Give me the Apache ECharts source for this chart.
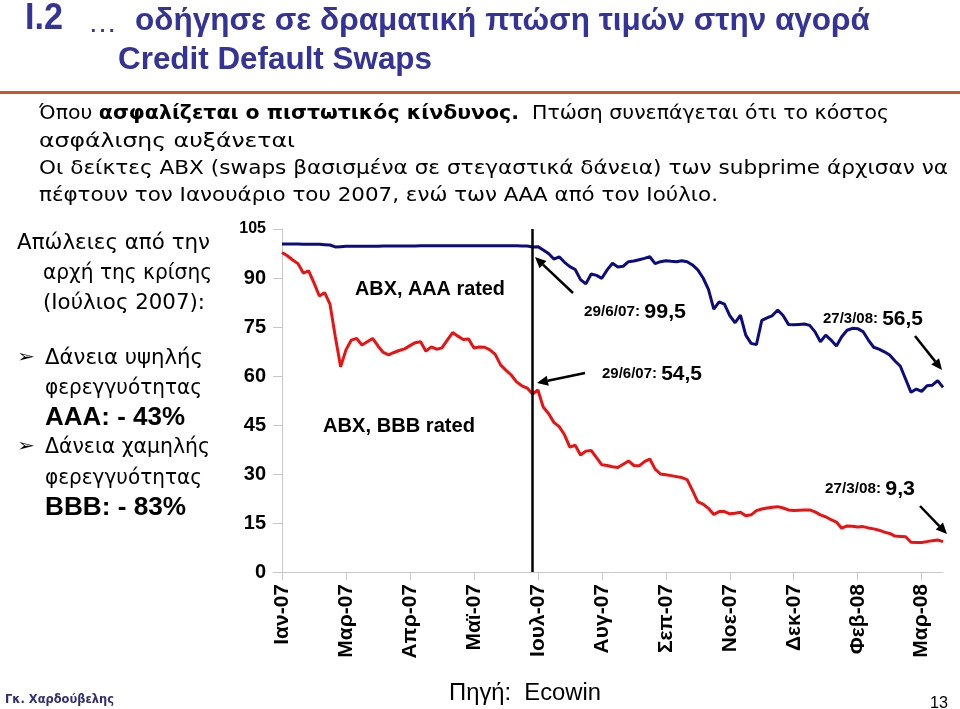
<!DOCTYPE html>
<html>
<head>
<meta charset="utf-8">
<script src="https://cdn.jsdelivr.net/npm/echarts@6/dist/echarts.min.js"></script>
<style>html,body{margin:0;padding:0;background:#fff;}#c{width:960px;height:709px;}</style>
</head>
<body>
<div id="c"></div>
<script>
// ---- data ----
const xLabels = ['Ιαν-07','Μαρ-07','Απρ-07','Μαϊ-07','Ιουλ-07','Αυγ-07','Σεπ-07','Νοε-07','Δεκ-07','Φεβ-08','Μαρ-08'];
const pointsPerLabel = 12;
const yMin = 0, yMax = 105, yStep = 15;
const crisisIndex = 47; // 29/6/07
const abxAAA = [
 100.4,100.4,100.4,100.4,100.3,100.3,100.3,100.3,100.2,100.1,
 99.5,99.6,99.7,99.7,99.7,99.7,99.7,99.7,99.7,99.8,
 99.8,99.8,99.8,99.8,99.8,99.8,99.9,99.9,99.9,99.9,
 99.9,99.9,99.9,99.9,99.9,99.9,99.9,99.9,99.9,99.9,
 99.9,99.9,99.9,99.9,99.9,99.8,99.8,99.5,99.6,98.6,
 97.5,95.8,96.5,94.8,93.5,92.6,89.5,88.2,91.2,90.8,
 89.9,92.5,94.5,93.4,93.6,95.0,95.2,95.6,96.0,96.5,
 94.4,95.0,95.3,95.1,95.0,95.3,95.0,94.0,92.5,90.0,
 86.5,80.5,82.7,82.0,78.5,76.3,78.6,72.5,70.0,69.6,
 77.0,77.8,78.5,80.2,78.5,75.8,75.7,75.8,75.9,75.5,
 73.5,70.5,72.5,71.0,69.2,72.0,74.0,74.6,74.5,73.6,
 71.0,68.8,68.2,67.4,66.4,64.6,63.0,59.0,55.0,56.0,
 55.3,57.0,57.2,58.6,56.5
];
const abxBBB = [
 97.8,96.8,95.5,94.4,91.5,92.2,88.5,84.5,85.5,82.0,
 72.0,62.8,68.0,71.0,71.5,69.5,70.5,71.5,69.2,67.2,
 66.5,67.2,67.8,68.3,69.3,70.2,70.5,67.6,68.9,68.2,
 68.6,71.0,73.3,72.2,71.2,71.3,68.6,68.9,68.8,68.0,
 66.6,63.4,61.8,60.3,58.2,57.0,56.3,54.5,55.7,50.5,
 48.5,45.8,44.5,42.0,38.2,38.8,35.8,37.0,37.2,35.0,
 32.8,32.6,32.2,32.0,33.0,34.0,32.6,32.5,33.8,34.6,
 31.5,30.0,29.8,29.5,29.2,28.9,28.3,25.0,21.5,20.8,
 19.5,17.6,18.5,18.5,17.8,18.0,18.3,17.2,17.5,18.8,
 19.3,19.6,19.8,20.0,19.6,19.0,18.8,18.9,19.0,19.0,
 18.4,17.5,16.9,16.0,15.3,13.4,14.1,14.0,13.8,13.9,
 13.5,13.2,12.8,12.2,11.8,11.0,10.9,10.8,9.1,9.0,
 9.0,9.3,9.6,9.8,9.3
];
const categories = abxAAA.map((_, i) => 'p' + i);

// ---- text helpers ----
const FAM = "'Liberation Sans', Arial, sans-serif";
const HUM = "'DejaVu Sans', sans-serif";
const mctx = document.createElement('canvas').getContext('2d');
function fontStr(seg){ return (seg.b ? 'bold ' : '') + seg.s + 'px ' + (seg.f || FAM); }
function measure(seg){ mctx.font = fontStr(seg); return mctx.measureText(seg.t).width; }
const graphics = [];
function line(x, y, segs, targetW){
  const ws = segs.map(measure);
  const total = ws.reduce((a,b)=>a+b,0);
  const sc = targetW ? targetW/total : 1;
  let cx = x;
  segs.forEach((seg,i)=>{
    graphics.push({type:'text', x: cx, y: y, scaleX: sc, silent:true, z:100,
      style:{text: seg.t, font: fontStr(seg), fill: seg.c || '#000', align:'left', verticalAlign:'middle', textAlign:'left', textVerticalAlign:'middle'}});
    cx += ws[i]*sc;
  });
}
function arrow(x1,y1,x2,y2){
  const ang = Math.atan2(y2-y1, x2-x1);
  const L = 11, W = 5;
  const bx = x2 - L*Math.cos(ang), by = y2 - L*Math.sin(ang);
  graphics.push({type:'line', silent:true, z:100, shape:{x1:x1,y1:y1,x2:bx,y2:by}, style:{stroke:'#000', lineWidth:2.5}});
  graphics.push({type:'polygon', silent:true, z:100, shape:{points:[[x2,y2],[bx - W*Math.sin(ang), by + W*Math.cos(ang)],[bx + W*Math.sin(ang), by - W*Math.cos(ang)]]}, style:{fill:'#000'}});
}

const TB = '#333399';
// title
line(25, 19, [{t:'I.2', b:true, s:37, c:TB}], 38);
line(88, 24, [{t:'…', b:false, s:28, c:TB}], 29);
line(135, 21, [{t:'οδήγησε σε δραματική πτώση τιμών στην αγορά', b:true, s:31, c:TB}], 735);
line(118, 60, [{t:'Credit Default Swaps', b:true, s:31, c:TB}], 314);
graphics.push({type:'rect', silent:true, shape:{x:0, y:91, width:960, height:3}, style:{fill:'#c9552b'}});
// body
line(39, 114, [{t:'Όπου ', s:19, f:HUM},{t:'ασφαλίζεται ο πιστωτικός κίνδυνος.', b:true, s:19, f:HUM},{t:'  Πτώση συνεπάγεται ότι το κόστος', s:19, f:HUM}], 850);
line(39, 142.5, [{t:'ασφάλισης αυξάνεται', s:19, f:HUM}], 256);
line(39, 169.5, [{t:'Οι δείκτες ABX (swaps βασισμένα σε στεγαστικά δάνεια) των subprime άρχισαν να', s:19, f:HUM}], 909);
line(39, 196.5, [{t:'πέφτουν τον Ιανουάριο του 2007, ενώ των ΑΑΑ από τον Ιούλιο.', s:19, f:HUM}], 679);
// left panel
line(17, 243, [{t:'Απώλειες από την', s:22, f:HUM}], 193);
line(43, 273, [{t:'αρχή της κρίσης', s:22, f:HUM}], 169);
line(43, 303, [{t:'(Ιούλιος 2007):', s:22, f:HUM}], 162);
line(17, 358, [{t:'➢', s:17, f:HUM}], 18);
line(45, 358, [{t:'Δάνεια υψηλής', s:22, f:HUM}], 158);
line(45, 388, [{t:'φερεγγυότητας', s:22, f:HUM}], 157);
line(45, 418, [{t:'AAA: - 43%', b:true, s:25}], 140);
line(17, 447, [{t:'➢', s:17, f:HUM}], 18);
line(45, 447, [{t:'Δάνεια χαμηλής', s:22, f:HUM}], 165);
line(45, 478, [{t:'φερεγγυότητας', s:22, f:HUM}], 157);
line(45, 508, [{t:'BBB: - 83%', b:true, s:25}], 141);
// chart annotations
line(355, 289, [{t:'ABX, AAA rated', b:true, s:21}], 150);
line(323, 426, [{t:'ABX, BBB rated', b:true, s:21}], 152);
line(584, 312, [{t:'29/6/07: ', b:true, s:15},{t:'99,5', b:true, s:21}], 102);
line(602, 374, [{t:'29/6/07: ', b:true, s:15},{t:'54,5', b:true, s:21}], 100);
line(823, 319, [{t:'27/3/08: ', b:true, s:15},{t:'56,5', b:true, s:21}], 100);
line(825, 489, [{t:'27/3/08: ', b:true, s:15},{t:'9,3', b:true, s:21}], 90);
arrow(573, 293, 535, 257);
arrow(585, 373, 537, 383);
arrow(915, 336, 942, 370);
arrow(920, 506, 947, 534);
// footer
line(5, 700, [{t:'Γκ. Χαρδούβελης', b:true, s:13, f:HUM, c:'#2e2e7a'}], 109);
line(449, 694, [{t:'Πηγή:  Ecowin', s:23}], 152);
line(930, 703, [{t:'13', s:17}], 18);

const chart = echarts.init(document.getElementById('c'), null, {renderer:'canvas'});
chart.setOption({
  animation:false,
  backgroundColor:'#fff',
  grid:{left:282, top:229, right:17, bottom:137, containLabel:false},
  xAxis:{
    type:'category', data:categories, boundaryGap:false,
    axisLine:{lineStyle:{color:'#c8c8c8', width:1}},
    axisTick:{interval:pointsPerLabel-1, length:8, lineStyle:{color:'#c8c8c8'}},
    axisLabel:{interval:pointsPerLabel-1, rotate:90, margin:12, fontSize:21, fontWeight:'bold', color:'#000', fontFamily:FAM,
      formatter:(v,i)=> xLabels[Math.round(i/pointsPerLabel)] || ''},
    splitLine:{show:false}
  },
  yAxis:{
    type:'value', min:yMin, max:yMax, interval:yStep,
    axisLine:{show:true, lineStyle:{color:'#c8c8c8', width:1}},
    axisTick:{show:true, length:9, lineStyle:{color:'#c8c8c8'}},
    splitLine:{show:false},
    axisLabel:{margin:16, fontSize:20, fontWeight:'bold', color:'#000', fontFamily:FAM,
      formatter:v=> v===yMax ? '{s|'+v+'}' : String(v),
      rich:{s:{fontSize:16, fontWeight:'bold', color:'#000', fontFamily:FAM}}}
  },
  series:[
    {type:'line', name:'ABX, AAA rated', data:abxAAA, showSymbol:false, symbol:'none',
     lineStyle:{color:'#0c0c80', width:3}, z:3,
     markLine:{silent:true, symbol:'none', label:{show:false}, data:[{xAxis:crisisIndex}],
       lineStyle:{color:'#000', width:2.5, type:'solid'}}},
    {type:'line', name:'ABX, BBB rated', data:abxBBB, showSymbol:false, symbol:'none',
     lineStyle:{color:'#ee1111', width:3}, z:2}
  ],
  graphic: graphics
});
</script>
</body>
</html>
